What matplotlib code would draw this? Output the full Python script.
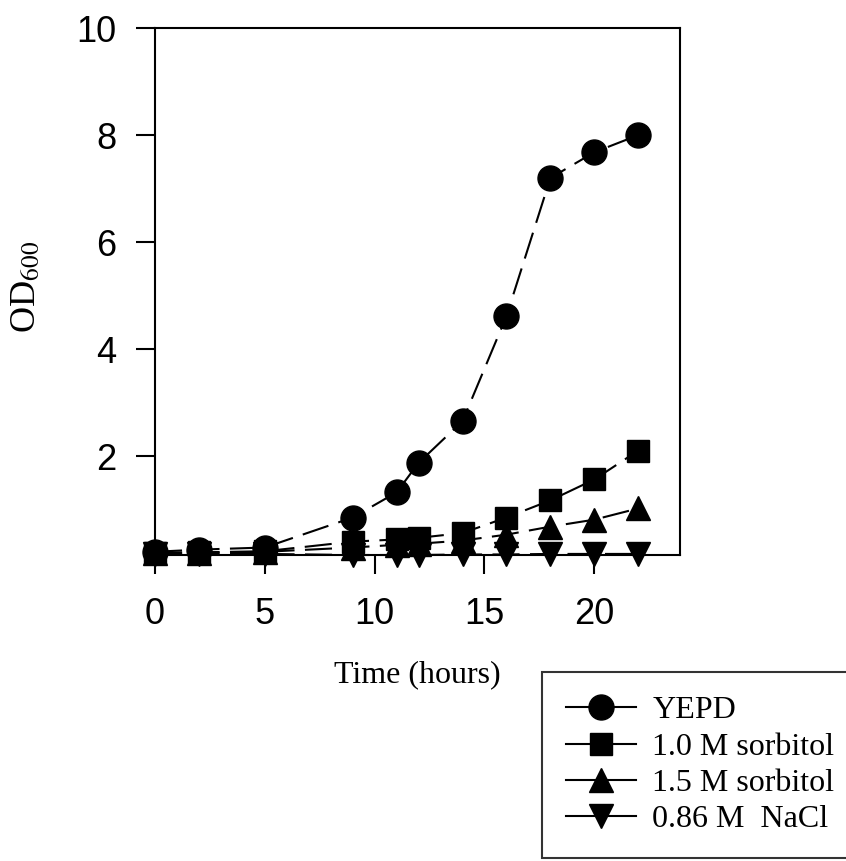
import matplotlib
matplotlib.use("Agg")
import matplotlib.pyplot as plt
from matplotlib.lines import Line2D

# growth curves, OD600
time = [0, 2, 5, 9, 11, 12, 14, 16, 18, 20, 22]
yepd = [0.22, 0.26, 0.30, 0.86, 1.33, 1.88, 2.66, 4.62, 7.20, 7.68, 8.00]
sorb_10 = [0.20, 0.21, 0.23, 0.41, 0.45, 0.48, 0.57, 0.86, 1.18, 1.57, 2.11]
sorb_15 = [0.20, 0.20, 0.22, 0.30, 0.35, 0.37, 0.43, 0.54, 0.69, 0.82, 1.03]
nacl = [0.18, 0.18, 0.18, 0.16, 0.16, 0.16, 0.17, 0.17, 0.18, 0.18, 0.18]

labels = ["YEPD", "1.0 M sorbitol", "1.5 M sorbitol", "0.86 M  NaCl"]
markers = ["o", "s", "^", "v"]
sizes = [18, 16, 17, 17]

plt.rcParams["mathtext.fontset"] = "stix"

fig = plt.figure(figsize=(8.46, 8.61), dpi=100)
ax = fig.add_axes([155 / 846, 1 - 555 / 861, 525 / 846, 527 / 861])

for y, m, ms in zip([yepd, sorb_10, sorb_15, nacl], markers, sizes):
    ax.plot(time, y, color="black", lw=1.5, linestyle=(0, (13, 5)),
            marker=m, markersize=ms, markerfacecolor="black",
            markeredgecolor="black", clip_on=False)

ax.set_xlim(0, 23.9)
ax.set_ylim(0.16, 10)
ax.set_xticks([0, 5, 10, 15, 20])
ax.set_yticks([2, 4, 6, 8, 10])
for s in ax.spines.values():
    s.set_linewidth(1.5)
ax.tick_params(axis="both", direction="out", length=14, width=1.5)
ax.tick_params(axis="x", pad=16)
ax.tick_params(axis="y", pad=14)
for lab in ax.get_xticklabels() + ax.get_yticklabels():
    lab.set_fontfamily("Liberation Sans")
    lab.set_fontsize(26)

fig.text(27 / 846, 1 - 287 / 861, "OD$_{600}$", rotation=90, ha="center",
         va="center", fontsize=26, family="Liberation Serif")
fig.text(417 / 846, 1 - 675 / 861, "Time (hours)", ha="center",
         va="center", fontsize=23, family="Liberation Serif")

handles = [Line2D([], [], color="black", lw=1.5, marker=m, markersize=ms,
                  markerfacecolor="black") for m, ms in zip(markers, sizes)]
leg = fig.legend(handles, labels, loc="upper left",
                 bbox_to_anchor=(542 / 846, 1 - 672 / 861),
                 prop={"family": "Liberation Serif", "size": 23},
                 frameon=True, fancybox=False, edgecolor="black",
                 borderpad=0.75, handlelength=2.2, handletextpad=0.5,
                 labelspacing=0.22, borderaxespad=0)
leg.get_frame().set_linewidth(1.5)

fig.savefig("out.png", dpi=100)
